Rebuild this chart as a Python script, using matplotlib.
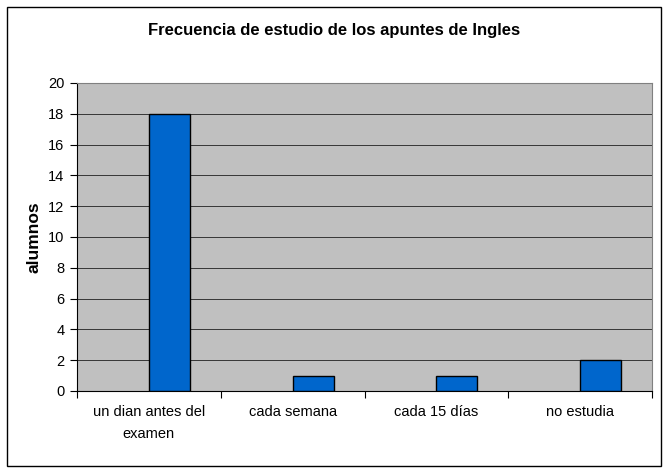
import numpy as np
import matplotlib.pyplot as plt
from matplotlib.patches import Rectangle

plt.rcParams['font.family'] = ['Liberation Sans', 'DejaVu Sans']

# data
categorias = ['un dian antes del\nexamen', 'cada semana', 'cada 15 días', 'no estudia']
alumnos = [18, 1, 1, 2]

fig = plt.figure(figsize=(6.68, 4.74), dpi=100)
ax = fig.add_axes([77/668, 1 - 391/474, (652-77)/668, (391-83)/474])

x = np.arange(len(categorias))
ax.bar(x, alumnos, width=0.285, align='edge', color='#0066CC',
       edgecolor='black', linewidth=1, zorder=3)

ax.set_facecolor('#C0C0C0')
ax.set_xlim(-0.5, len(categorias) - 0.5)
ax.set_ylim(0, 20)
ax.set_yticks(range(0, 21, 2))
ax.yaxis.grid(True, color='#202020', linewidth=0.6, zorder=1)

# category boundaries get the tick marks, labels sit in the middle
ax.set_xticks(np.arange(len(categorias) + 1) - 0.5)
ax.set_xticklabels([])
ax.set_xticks(x, minor=True)
ax.set_xticklabels(categorias, minor=True, fontsize=10.5, linespacing=1.75)
ax.tick_params(axis='x', which='minor', length=0, pad=10)
ax.tick_params(axis='x', which='major', length=5, width=0.8)
ax.tick_params(axis='y', length=5, width=0.8, labelsize=10.5, pad=4)

for s in ['top', 'right']:
    ax.spines[s].set_color('#808080')
for s in ['left', 'bottom']:
    ax.spines[s].set_color('black')

ax.set_ylabel('alumnos', fontsize=12.5, fontweight='bold', labelpad=5)
fig.text(0.5, 1 - 30/474, 'Frecuencia de estudio de los apuntes de Ingles',
         ha='center', va='center', fontsize=12, fontweight='bold')

# outer chart border
fig.patches.append(Rectangle((7/668, 1 - 466/474), (661-7)/668, (466-7)/474,
                             transform=fig.transFigure, fill=False,
                             edgecolor='black', linewidth=1))

fig.savefig('out.png', dpi=100)
